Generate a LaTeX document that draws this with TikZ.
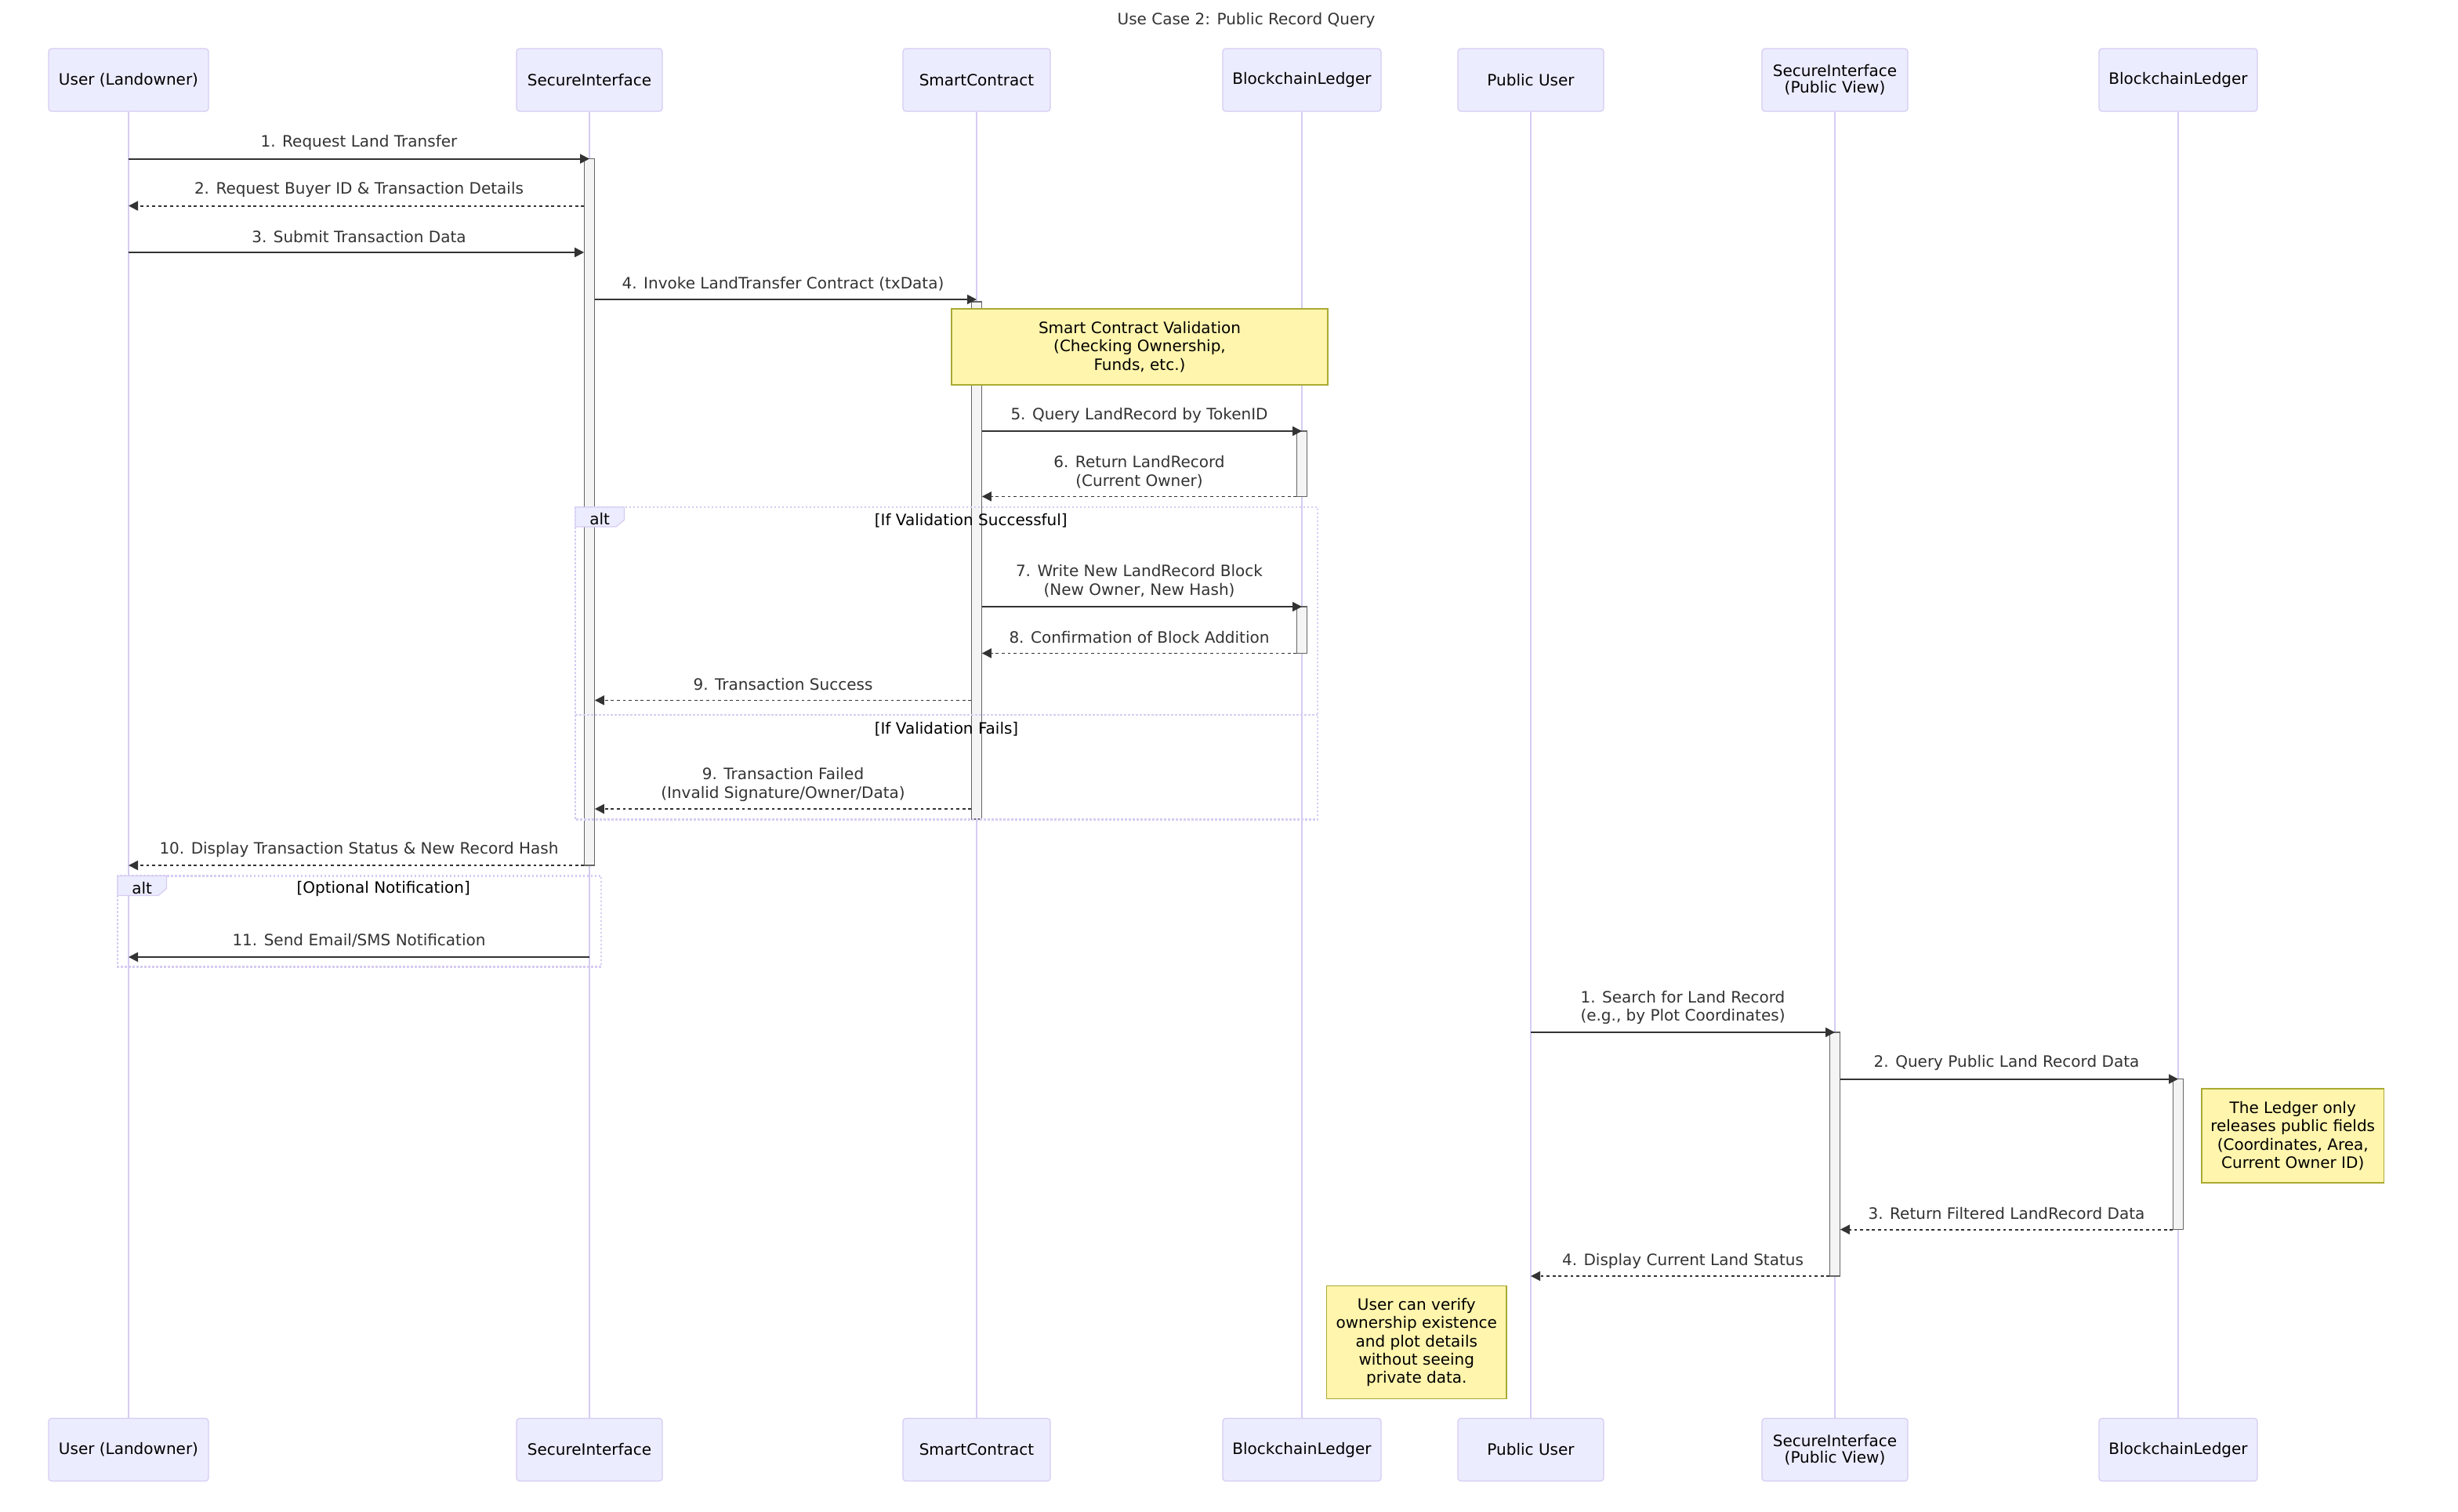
\documentclass[tikz,border=0pt]{standalone}
\usepackage{fontspec}
\setmainfont{DejaVu Sans}
\usepackage{tikz}
\usetikzlibrary{arrows.meta,fit}

\definecolor{actorbg}{HTML}{ECECFF}
\definecolor{actorbd}{HTML}{D6CCF2}
\definecolor{signal}{HTML}{333333}
\definecolor{actbg}{HTML}{F4F4F4}
\definecolor{actbd}{HTML}{666666}
\definecolor{notebg}{HTML}{FFF5AD}
\definecolor{notebd}{HTML}{AAAA33}

\begin{document}
\begin{tikzpicture}[x=1pt,y=-1pt,
  font=\fontsize{10}{11.7}\selectfont,
  actor/.style={draw=actorbd,fill=actorbg,rounded corners=1.9pt,minimum height=40pt,
    inner sep=0pt,align=center,text=black,line width=0.6pt,font=\fontsize{10}{10.5}\selectfont},
  lifeline/.style={draw=actorbd,line width=0.6pt},
  act/.style={draw=actbd,fill=actbg,line width=0.6pt,inner xsep=3.1pt,inner ysep=0pt},
  note/.style={draw=notebd,fill=notebg,line width=0.6pt,inner sep=0pt,align=center,text=black},
  msg/.style={draw=signal,line width=0.9pt,-{Triangle[length=6pt,width=6pt]}},
  reply/.style={msg,dash pattern=on 1.9pt off 1.9pt},
  lbl/.style={text=signal,align=center,inner sep=0pt,yshift=-1.2pt},
  altframe/.style={draw=actorbd,line width=1.2pt,dash pattern=on 1.25pt off 1.25pt},
  altbox/.style={draw=actorbd,fill=actorbg,line width=0.6pt},
  guard/.style={text=black,inner sep=0pt,yshift=-1.2pt}]
\fill[white] (0,0) rectangle (1568,964);

\node[text=signal,yshift=-1pt] (title) at (795,12) {Use Case 2: Public Record Query};

% participants and lifelines
\foreach \n/\x/\w/\t in {user/82/102/{User (Landowner)},si/376/93/SecureInterface,
    sc/623/94/SmartContract,bl/830.5/101/BlockchainLedger,pu/976.5/93/{Public User},
    sip/1170.5/93/{SecureInterface\\(Public View)},bl2/1389.5/101/BlockchainLedger}{
  \node[actor,minimum width=\w pt] (top-\n) at (\x,51) {\t};
  \node[actor,minimum width=\w pt] (bot-\n) at (\x,924.75) {\t};
  \draw[lifeline] (top-\n) -- (bot-\n);
}

\foreach \n/\y in {m1/101.3,m2/131.3,m3/161,m4/191,scon/192.5,m5/275,m6/316.7,m7/387,
    m8/416.7,m9/446.7,m9b/516,scoff/522.5,m10/552,m11/610.5,p1/658.5,p2/688.3,p3/784.3,p4/814}
  \coordinate (\n) at (0,\y);

% activations
\node[act,fit={(top-si |- m1) (top-si |- m10)}] (act-si) {};
\node[act,fit={(top-sc |- scon) (top-sc |- scoff)}] (act-sc) {};
\node[act,fit={(top-bl |- m5) (top-bl |- m6)}] (act-bl1) {};
\node[act,fit={(top-bl |- m7) (top-bl |- m8)}] (act-bl2) {};
\node[act,fit={(top-sip |- p1) (top-sip |- p4)}] (act-sip) {};
\node[act,fit={(top-bl2 |- p2) (top-bl2 |- p3)}] (act-led) {};

% notes
\node[note,minimum width=240pt,minimum height=48.5pt] (valnote) at (727,221.25)
  {Smart Contract Validation\\(Checking Ownership,\\Funds, etc.)};
\node[note,minimum width=116.2pt,minimum height=60pt] (ledgernote) at (1462.6,724.5)
  {The Ledger only\\releases public fields\\(Coordinates, Area,\\Current Owner ID)};
\node[note,minimum width=114.7pt,minimum height=72pt] (usernote) at (903.65,856.25)
  {User can verify\\ownership existence\\and plot details\\without seeing\\private data.};

% messages
\draw[msg] (top-user |- m1) -- (top-si |- m1);
\node[lbl] (l1) at (229,90) {1. Request Land Transfer};
\draw[reply] (act-si.west |- m2) -- (top-user |- m2);
\node[lbl] (l2) at (229,120) {2. Request Buyer ID \& Transaction Details};
\draw[msg] (top-user |- m3) -- (act-si.west |- m3);
\node[lbl] (l3) at (229,150) {3. Submit Transaction Data};
\draw[msg] (act-si.east |- m4) -- (top-sc |- m4);
\node[lbl] (l4) at (499.5,180) {4. Invoke LandTransfer Contract (txData)};
\draw[msg] (act-sc.east |- m5) -- (top-bl |- m5);
\node[lbl] (l5) at (726.75,264) {5. Query LandRecord by TokenID};
\draw[reply] (act-bl1.west |- m6) -- (act-sc.east |- m6);
\node[lbl] (l6) at (726.75,300) {6. Return LandRecord\\(Current Owner)};
\draw[msg] (act-sc.east |- m7) -- (top-bl |- m7);
\node[lbl] (l7) at (726.75,369.5) {7. Write New LandRecord Block\\(New Owner, New Hash)};
\draw[reply] (act-bl2.west |- m8) -- (act-sc.east |- m8);
\node[lbl] (l8) at (726.75,405.5) {8. Confirmation of Block Addition};
\draw[reply] (act-sc.west |- m9) -- (act-si.east |- m9);
\node[lbl] (l9) at (499.5,435.5) {9. Transaction Success};
\draw[reply] (act-sc.west |- m9b) -- (act-si.east |- m9b);
\node[lbl] (l9b) at (499.5,499.25) {9. Transaction Failed\\(Invalid Signature/Owner/Data)};
\draw[reply] (act-si.west |- m10) -- (top-user |- m10);
\node[lbl] (l10) at (229,540.8) {10. Display Transaction Status \& New Record Hash};
\draw[msg] (top-si |- m11) -- (top-user |- m11);
\node[lbl] (l11) at (229,598.8) {11. Send Email/SMS Notification};

\draw[msg] (top-pu |- p1) -- (top-sip |- p1);
\node[lbl] (q1) at (1073.5,641.5) {1. Search for Land Record\\(e.g., by Plot Coordinates)};
\draw[msg] (act-sip.east |- p2) -- (top-bl2 |- p2);
\node[lbl] (q2) at (1280,677) {2. Query Public Land Record Data};
\draw[reply] (act-led.west |- p3) -- (act-sip.east |- p3);
\node[lbl] (q3) at (1280,773) {3. Return Filtered LandRecord Data};
\draw[reply] (act-sip.west |- p4) -- (top-pu |- p4);
\node[lbl] (q4) at (1073.5,803.3) {4. Display Current Land Status};

% alt blocks
\draw[altframe] (367,323.5) rectangle (840.5,522.8);
\draw[altframe] (367,456) -- (840.5,456);
\draw[altbox] (367,323.5) -- (398.25,323.5) -- (398.25,331.6) -- (393,336) -- (367,336) -- cycle;
\node[guard] (alt1) at (382.6,330) {alt};
\node[guard] (g1) at (619.4,331) {[If Validation Successful]};
\node[guard] (g2) at (603.75,464) {[If Validation Fails]};

\draw[altframe] (75,558.7) rectangle (383.5,616.7);
\draw[altbox] (75,558.7) -- (106.25,558.7) -- (106.25,566.8) -- (101,571.2) -- (75,571.2) -- cycle;
\node[guard] (alt2) at (90.6,565.2) {alt};
\node[guard] (g3) at (244.6,566) {[Optional Notification]};
\end{tikzpicture}
\end{document}
